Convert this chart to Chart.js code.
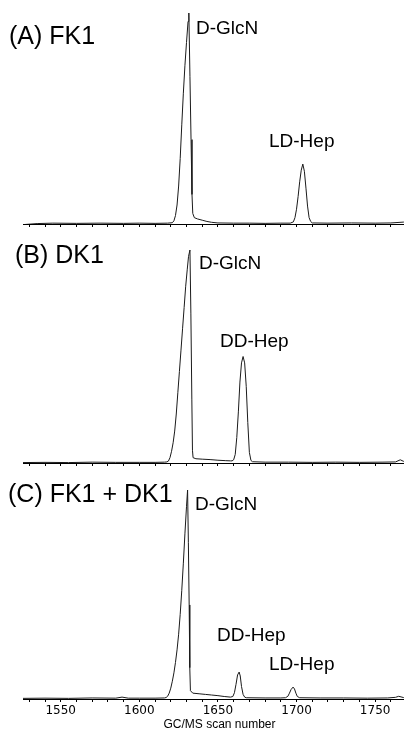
<!DOCTYPE html>
<html>
<head>
<meta charset="utf-8">
<script src="https://cdn.jsdelivr.net/npm/chart.js@4/dist/chart.umd.min.js"></script>
<style>
  html, body { margin: 0; padding: 0; background: #fff; }
  body { width: 404px; height: 731px; overflow: hidden; position: relative; font-family: "Liberation Sans", Arial, sans-serif; color: #000; }
  canvas { position: absolute; left: 0; }
  .lbl { position: absolute; line-height: 1; transform: translateY(-50%); white-space: nowrap; }
  .panel { font-size: 25px; }
  .peak { font-size: 19px; }
</style>
</head>
<body>
<canvas id="cA" width="416" height="232" style="top:0px"></canvas>
<canvas id="cB" width="416" height="231" style="top:240px"></canvas>
<canvas id="cC" width="416" height="251" style="top:480px"></canvas>

<div class="lbl panel" style="left:9px; top:35px">(A) FK1</div>
<div class="lbl peak" style="left:196px; top:27px">D-GlcN</div>
<div class="lbl peak" style="left:269px; top:140px">LD-Hep</div>

<div class="lbl panel" style="left:15px; top:254px">(B) DK1</div>
<div class="lbl peak" style="left:199px; top:262px">D-GlcN</div>
<div class="lbl peak" style="left:220px; top:340px">DD-Hep</div>

<div class="lbl panel" style="left:8px; top:493px">(C) FK1 + DK1</div>
<div class="lbl peak" style="left:195px; top:503px">D-GlcN</div>
<div class="lbl peak" style="left:217px; top:634px">DD-Hep</div>
<div class="lbl peak" style="left:269px; top:663px">LD-Hep</div>

<script>
// ---- Data (GC/MS scan number vs. relative intensity, % of D-GlcN peak) ----
const scansA = [1526, 1535, 1545, 1560, 1575, 1590, 1600, 1610, 1618, 1621, 1622, 1623, 1624, 1625, 1626, 1627, 1628, 1629, 1630, 1631, 1631.5, 1632.2, 1632.9, 1633.5, 1634, 1635, 1637, 1640, 1643, 1646, 1650, 1660, 1670, 1680, 1690, 1696, 1698, 1699, 1700, 1701, 1702, 1703, 1704, 1705, 1706, 1707, 1708, 1709, 1710, 1720, 1735, 1750, 1760, 1768, 1776];
const signalA = [-0.3, 0.2, 0.4, 0.3, 0.4, 0.3, 0.4, 0.3, 0.4, 0.6, 1.5, 4, 9, 18, 31, 47, 62, 75, 86, 96, 100, 70, 40, 14, 5, 3, 2.4, 1.8, 1.2, 0.8, 0.5, 0.4, 0.4, 0.3, 0.4, 0.4, 1, 3, 7, 13, 20, 25.5, 28.4, 25, 17, 8.5, 3, 1.2, 0.5, 0.4, 0.5, 0.4, 0.5, 0.9, 0.6];

const scansB = [1526, 1540, 1555, 1570, 1585, 1600, 1610, 1616, 1617.5, 1618.5, 1619.5, 1620.5, 1621.5, 1622.5, 1623.5, 1624.5, 1625.5, 1626.5, 1627.5, 1628.5, 1629.5, 1630.5, 1631.3, 1632.2, 1632.8, 1633.4, 1633.8, 1634.2, 1636, 1640, 1645, 1650, 1655, 1658, 1659, 1660, 1661, 1662, 1663, 1664, 1665, 1666, 1667, 1668, 1669, 1670, 1671, 1672, 1680, 1695, 1710, 1725, 1740, 1755, 1763, 1766, 1768, 1776];
const signalB = [0.2, 0.3, 0.2, 0.4, 0.3, 0.3, 0.3, 0.4, 0.5, 0.9, 2.5, 5.5, 9.5, 15, 23, 33, 43, 53, 63, 73, 83, 91, 97, 100, 70, 30, 6, 2.5, 2, 1.8, 1.6, 1.3, 1.1, 1, 1, 1.5, 4, 12, 24, 38, 47, 50, 47, 36, 19, 5, 1.2, 0.6, 0.4, 0.4, 0.3, 0.4, 0.3, 0.4, 0.5, 1.5, 0.8, 0.5];

const scansC = [1526, 1540, 1555, 1570, 1585, 1589, 1593, 1600, 1610, 1616, 1617, 1618, 1619, 1620, 1621, 1622, 1623, 1624, 1625, 1626, 1627, 1628, 1629, 1630, 1630.7, 1631.2, 1631.7, 1632.1, 1632.5, 1634, 1638, 1642, 1646, 1650, 1654, 1658, 1659.5, 1660.5, 1661.5, 1662.5, 1663.5, 1664.2, 1665, 1666, 1667, 1668, 1680, 1690, 1693, 1694.5, 1695.5, 1696.5, 1697.8, 1698.7, 1699.6, 1700.5, 1702, 1715, 1730, 1745, 1758, 1763, 1765, 1768, 1776];
const signalC = [0.3, 0.4, 0.3, 0.5, 0.4, 0.9, 0.4, 0.4, 0.4, 0.5, 0.7, 1.3, 2.8, 5.2, 8.5, 12.5, 17.5, 23.5, 31, 40.5, 52, 65, 79, 92, 100, 75, 45, 15, 4, 2.8, 2.5, 2.2, 1.9, 1.6, 1.2, 0.9, 1.2, 3, 7, 11.5, 12.9, 11, 6, 2.2, 0.9, 0.6, 0.5, 0.5, 0.6, 1.3, 2.8, 4.5, 5.7, 4.8, 2.8, 1.2, 0.6, 0.5, 0.5, 0.4, 0.5, 0.8, 1.3, 0.7, 0.5];

const tickValues = [1530, 1540, 1550, 1560, 1570, 1580, 1590, 1600, 1610, 1620, 1630, 1640, 1650, 1660, 1670, 1680, 1690, 1700, 1710, 1720, 1730, 1740, 1750, 1760, 1770];
const tickLabels = [1550, 1600, 1650, 1700, 1750];
const xTitle = "GC/MS scan number";

// ---- Rendering ----
function makeChart(id, scans, signal, opts) {
  const pts = scans.map((s, i) => ({ x: s, y: signal[i] }));
  return new Chart(document.getElementById(id), {
    type: 'line',
    data: { datasets: [{ data: pts, borderColor: '#1a1a1a', borderWidth: 1, pointRadius: 0, tension: 0, fill: false }] },
    options: {
      responsive: false, animation: false, devicePixelRatio: 1,
      layout: { padding: { left: 23, right: 0, top: opts.top, bottom: 0 } },
      plugins: { legend: { display: false }, tooltip: { enabled: false } },
      scales: {
        x: {
          type: 'linear', min: 1526, max: 1776,
          afterBuildTicks: s => { s.ticks = tickValues.map(v => ({ value: v })); },
          afterFit: s => { s.height = opts.axisHeight; },
          grid: { drawOnChartArea: false, drawTicks: true, tickLength: 3, color: '#000', lineWidth: 1 },
          border: { display: true, color: '#000', width: 1 },
          ticks: {
            display: opts.labels, autoSkip: false, maxRotation: 0, minRotation: 0, padding: 2,
            color: '#000', font: { family: 'DejaVu Sans', size: 12 },
            callback: v => tickLabels.includes(v) ? String(v) : ''
          },
          title: {
            display: opts.labels, text: xTitle, color: '#000',
            font: { family: 'Liberation Sans', size: 12, lineHeight: 1 },
            padding: { top: 0, bottom: 0 }
          }
        },
        y: { display: false, min: 0, max: 100 }
      }
    }
  });
}

makeChart('cA', scansA, signalA, { top: 13, axisHeight: 8, labels: false });
makeChart('cB', scansB, signalB, { top: 10, axisHeight: 8, labels: false });
makeChart('cC', scansC, signalC, { top: 10, axisHeight: 32, labels: true });
</script>
</body>
</html>
